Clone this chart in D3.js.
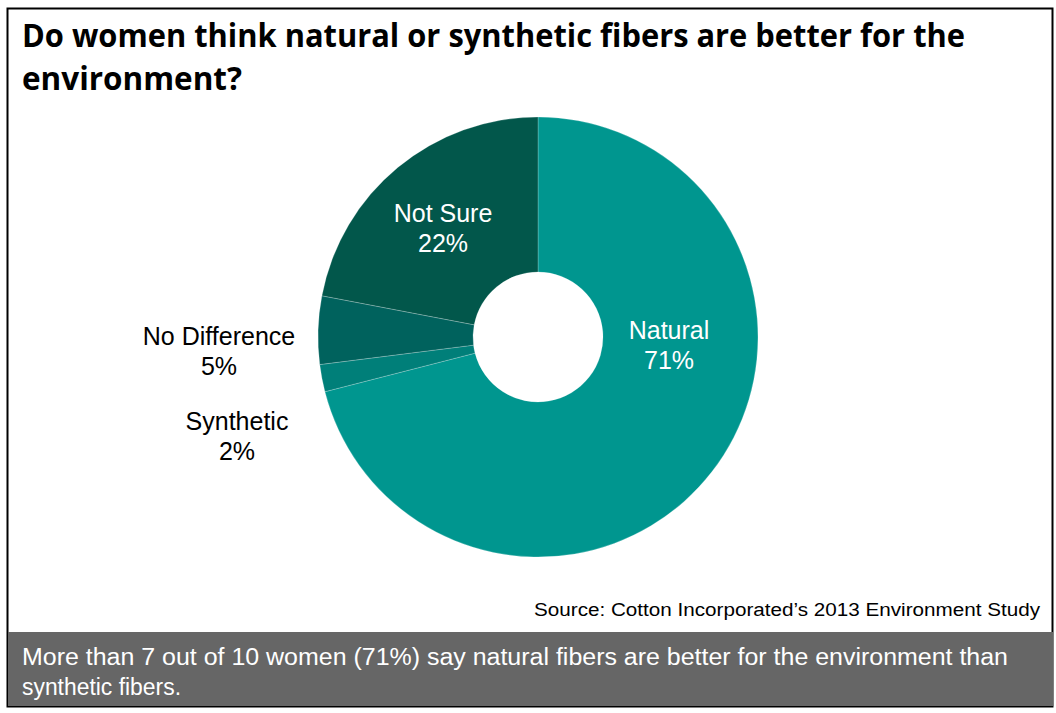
<!DOCTYPE html>
<html>
<head>
<meta charset="utf-8">
<script src="https://cdn.jsdelivr.net/npm/d3@7"></script>
<style>
  body { margin: 0; background: #fff; }
  svg { display: block; }
</style>
</head>
<body>
<div id="chart"></div>
<script>
// data
var categories = ["Natural", "Synthetic", "No Difference", "Not Sure"];
var shares = [71, 2, 5, 22];
var sliceColors = ["#00968f", "#007f79", "#00625d", "#02574b"];
var titleLines = ["Do women think natural or synthetic fibers are better for the", "environment?"];
var sourceText = "Source: Cotton Incorporated\u2019s 2013 Environment Study";
var noteLines = ["More than 7 out of 10 women (71%) say natural fibers are better for the environment than", "synthetic fibers."];

var width = 1056, height = 713;
var svg = d3.select('#chart').append('svg')
  .attr('width', width)
  .attr('height', height);

// frame
svg.append('rect')
  .attr('x', 7.5).attr('y', 8.5)
  .attr('width', 1045).attr('height', 698)
  .attr('fill', '#fff')
  .attr('stroke', '#000')
  .attr('stroke-width', 2);

// title
var title = svg.append('g');
title.selectAll('text')
  .data(titleLines)
  .enter().append('text')
  .attr('x', 22)
  .attr('y', function(d, i) { return 47 + i * 43; })
  .attr('font-family', '"Open Sans", sans-serif')
  .attr('font-weight', 'bold')
  .attr('font-size', '32px')
  .attr('fill', '#000')
  .attr('textLength', function(d, i) { return i == 0 ? 943 : 220; })
  .attr('lengthAdjust', 'spacingAndGlyphs')
  .text(function(d) { return d; });

// donut
var cx = 538, cy = 337, outerR = 220, innerR = 65;
var pie = d3.pie().sort(null).value(function(d) { return d; });
var arc = d3.arc().innerRadius(innerR).outerRadius(outerR);
var arcs = pie(shares);

var g = svg.append('g').attr('transform', 'translate(' + cx + ',' + cy + ')');
g.selectAll('path')
  .data(arcs)
  .enter().append('path')
  .attr('d', arc)
  .attr('fill', function(d, i) { return sliceColors[i]; })
  .attr('stroke', 'rgba(255,255,255,0.3)')
  .attr('stroke-width', 0.75);

// label placement (offset from centre, as laid out in the original)
var labelOffsets = [[131, 345 - cy], [-301, 436 - cy], [-319, 351 - cy], [-95, 228 - cy]];
var labelInside = [true, false, false, true];

var labels = g.selectAll('g.lbl')
  .data(arcs)
  .enter().append('g')
  .attr('class', 'lbl')
  .attr('transform', function(d, i) { return 'translate(' + labelOffsets[i][0] + ',' + labelOffsets[i][1] + ')'; });

labels.append('text')
  .attr('text-anchor', 'middle')
  .attr('font-family', '"Liberation Sans", Arial, sans-serif')
  .attr('font-size', '25px')
  .attr('fill', function(d, i) { return labelInside[i] ? '#fff' : '#000'; })
  .selectAll('tspan')
  .data(function(d, i) { return [categories[i], d.data + '%']; })
  .enter().append('tspan')
  .attr('x', 0)
  .attr('y', function(d, j) { return j == 0 ? -6 : 24; })
  .text(function(d) { return d; });

// source
svg.append('text')
  .attr('x', 1040)
  .attr('y', 616)
  .attr('text-anchor', 'end')
  .attr('font-family', '"Liberation Sans", Arial, sans-serif')
  .attr('font-size', '18px')
  .attr('fill', '#000')
  .attr('textLength', 506)
  .attr('lengthAdjust', 'spacingAndGlyphs')
  .text(sourceText);

// bottom note box
svg.append('rect')
  .attr('x', 8).attr('y', 632)
  .attr('width', 1045).attr('height', 74)
  .attr('fill', '#666666');

svg.append('g').selectAll('text')
  .data(noteLines)
  .enter().append('text')
  .attr('x', 22)
  .attr('y', function(d, i) { return 665 + i * 30; })
  .attr('font-family', '"Liberation Sans", Arial, sans-serif')
  .attr('font-size', '23px')
  .attr('fill', '#fff')
  .attr('textLength', function(d, i) { return i == 0 ? 986 : 159; })
  .attr('lengthAdjust', 'spacingAndGlyphs')
  .text(function(d) { return d; });
</script>
</body>
</html>
